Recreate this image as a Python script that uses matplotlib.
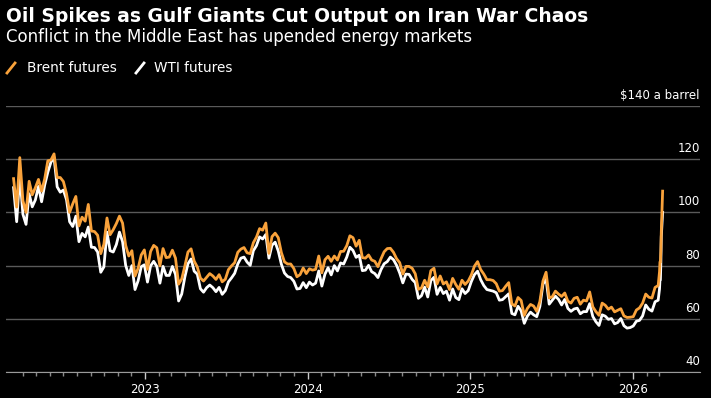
import matplotlib.pyplot as plt
from matplotlib.lines import Line2D
from matplotlib.transforms import blended_transform_factory
import pandas as pd

# weekly (Friday) closes in $ a barrel
brent_2022 = [112.7, 102.0, 120.6,
              104.4, 100.0, 111.7, 106.6, 109.3,
              112.4, 108.0, 112.6, 119.4,
              119.7, 122.0, 113.1, 113.1,
              111.6, 107.0, 100.0, 103.2, 106.0,
              94.9, 98.2, 96.7, 103.0,
              93.0, 92.8, 91.4, 84.5, 88.0,
              97.9, 91.6, 93.5, 95.8,
              98.6, 96.0, 87.6, 83.6,
              85.6, 76.1, 79.0, 84.0, 85.9]
wti_2022 = [109.3, 96.5, 113.9,
            99.3, 95.5, 107.0, 102.1, 104.7,
            109.8, 104.0, 110.3, 115.1,
            118.9, 120.7, 109.6, 107.6,
            108.4, 104.8, 96.5, 94.7, 98.6,
            89.0, 92.1, 90.8, 94.5,
            86.9, 86.8, 85.1, 77.5, 79.5,
            92.6, 85.6, 85.1, 87.9,
            92.6, 89.0, 80.1, 76.3,
            80.0, 71.0, 74.3, 79.6, 80.3]

brent_2023 = [78.6, 85.3, 87.6, 86.7,
              79.9, 86.4, 83.0, 83.2,
              85.8, 82.8, 73.0, 75.0, 79.8,
              85.1, 86.3, 81.7, 79.5,
              75.3, 74.2, 75.6, 77.0,
              76.1, 74.8, 76.6, 73.9, 74.9,
              78.5, 79.9, 81.1, 85.0,
              86.2, 86.8, 84.8, 84.5,
              88.6, 90.7, 93.9, 93.3, 96.0,
              84.6, 90.9, 92.2, 90.5,
              84.9, 81.4, 80.6, 80.6,
              78.9, 75.8, 76.6, 79.1, 77.0]
wti_2023 = [73.8, 79.9, 81.6, 79.7,
            73.4, 79.7, 76.3, 76.3,
            79.7, 76.7, 66.7, 69.3, 75.7,
            80.7, 82.5, 77.9, 76.8,
            71.3, 70.0, 71.7, 72.7,
            71.7, 70.2, 71.8, 69.2, 70.6,
            73.9, 75.4, 77.1, 80.6,
            82.8, 83.2, 81.3, 80.1,
            85.6, 87.5, 90.8, 90.0, 91.7,
            82.8, 87.7, 88.8, 85.5,
            80.5, 77.2, 75.9, 75.5,
            74.1, 71.2, 71.4, 73.6, 71.7]

brent_2024 = [78.8, 78.3, 78.6, 83.6,
              77.3, 82.2, 83.5, 81.6,
              83.6, 82.1, 85.3, 85.4, 87.5,
              91.2, 90.5, 87.3, 89.5,
              83.0, 82.8, 84.0, 82.1, 81.6,
              79.6, 82.6, 85.2, 86.4,
              86.5, 85.0, 82.6, 81.1,
              76.8, 79.7, 79.7, 79.0, 76.9,
              71.1, 71.6, 74.5, 72.0,
              78.1, 79.0, 73.1, 76.1,
              73.1, 73.9, 71.0, 75.2, 72.9,
              71.1, 74.5, 72.9, 74.2]
wti_2024 = [73.8, 72.7, 73.4, 78.0,
            72.3, 76.8, 79.2, 76.5,
            80.0, 78.0, 81.0, 80.6, 83.2,
            86.9, 85.7, 83.1, 83.9,
            78.1, 78.3, 80.1, 77.7, 77.0,
            75.5, 78.5, 80.7, 81.5,
            83.2, 82.2, 80.1, 77.2,
            73.5, 76.8, 76.7, 74.8, 73.6,
            67.7, 68.7, 71.9, 68.2,
            74.4, 75.6, 69.2, 71.8,
            69.5, 70.4, 67.0, 71.2, 68.0,
            67.2, 71.3, 69.5, 70.6]

brent_2025 = [76.5, 79.8, 81.5, 78.5, 76.8,
              74.7, 74.7, 74.4, 73.2,
              70.4, 70.6, 72.2, 73.6,
              65.6, 64.8, 68.0, 66.9,
              61.3, 63.9, 65.4, 64.8, 62.8,
              66.5, 74.2, 77.5, 67.8,
              68.3, 70.4, 69.3, 68.4,
              69.7, 66.6, 65.9, 67.7, 68.1,
              65.5, 67.0, 66.7, 70.1,
              64.5, 62.7, 61.3, 65.9, 65.1,
              63.6, 64.4, 62.6, 63.2,
              63.8, 61.1, 60.5, 60.6]
wti_2025 = [74.0, 76.6, 77.9, 74.7, 72.5,
            71.0, 70.7, 70.4, 69.8,
            67.0, 67.2, 68.3, 69.4,
            62.0, 61.5, 64.7, 63.0,
            58.3, 61.0, 62.5, 61.5, 60.8,
            64.6, 73.0, 75.0, 65.5,
            67.0, 68.5, 67.3, 65.2,
            67.3, 63.9, 62.8, 63.7, 64.0,
            61.9, 62.7, 62.7, 65.7,
            60.9, 58.9, 57.5, 61.5, 61.0,
            59.8, 60.1, 58.1, 58.6,
            60.1, 57.4, 56.5, 56.7]

brent_2026 = [60.8, 63.3, 64.1, 65.9, 69.3, 68.1, 67.8, 71.8, 72.5]
wti_2026 = [57.3, 59.1, 59.4, 61.1, 65.2, 63.6, 62.9, 66.4, 67.0]

# daily closes for the March 2026 spike
march_days = ['2026-03-02', '2026-03-03', '2026-03-04', '2026-03-05', '2026-03-06', '2026-03-09']
brent_march = [77.7, 81.4, 81.4, 85.4, 92.7, 108.0]
wti_march = [71.2, 74.6, 74.7, 81.0, 90.9, 100.0]

year_starts = ['2022-03-11', '2023-01-06', '2024-01-05', '2025-01-03', '2026-01-02']


def build(yearly, march):
    parts = [pd.Series(v, index=pd.date_range(s, periods=len(v), freq='W-FRI'))
             for s, v in zip(year_starts, yearly)]
    parts.append(pd.Series(march, index=pd.to_datetime(march_days)))
    return pd.concat(parts)


brent = build([brent_2022, brent_2023, brent_2024, brent_2025, brent_2026], brent_march)
wti = build([wti_2022, wti_2023, wti_2024, wti_2025, wti_2026], wti_march)

orange = '#f9a23b'
plt.rcParams['font.family'] = 'DejaVu Sans'
W, H = 711, 398
fig = plt.figure(figsize=(W / 100, H / 100), dpi=100, facecolor='black')
ax = fig.add_axes([6 / W, 26 / H, 694 / W, 266 / H], facecolor='black')

ax.plot(wti.index, wti.values, color='white', lw=2.0, solid_joinstyle='round')
ax.plot(brent.index, brent.values, color=orange, lw=2.0, solid_joinstyle='round')

ax.set_ylim(40, 140)
ax.set_xlim(pd.Timestamp('2022-02-22'), pd.Timestamp('2026-06-01'))
ax.set_yticks(range(40, 141, 20))
ax.yaxis.grid(True, color='#5a5a5a', lw=1)
ax.tick_params(axis='y', length=0, labelleft=False)
for s in ['top', 'left', 'right']:
    ax.spines[s].set_visible(False)
ax.spines['bottom'].set_color('#9a9a9a')
ax.spines['bottom'].set_zorder(3)

trans = blended_transform_factory(ax.transAxes, ax.transData)
for v in range(40, 141, 20):
    label = '$140 a barrel' if v == 140 else str(v)
    ax.annotate(label, xy=(1, v), xycoords=trans, xytext=(0, 5), textcoords='offset points',
                ha='right', va='baseline', color='white', fontsize=8.5)

years = pd.to_datetime(['2023-01-01', '2024-01-01', '2025-01-01', '2026-01-01'])
ax.set_xticks(years)
ax.set_xticklabels([str(d.year) for d in years])
months = pd.date_range('2022-04-01', '2026-03-01', freq='MS')
ax.set_xticks(months, minor=True)
ax.tick_params(axis='x', which='major', length=5, width=1, color='#cccccc', labelcolor='white',
               labelsize=8.5, pad=3)
ax.tick_params(axis='x', which='minor', length=3, width=1, color='#8a8a8a')

fig.text(6 / W, 1 - 16 / H, 'Oil Spikes as Gulf Giants Cut Output on Iran War Chaos',
         color='white', fontsize=13.5, fontweight='bold', va='center')
fig.text(6 / W, 1 - 37 / H, 'Conflict in the Middle East has upended energy markets',
         color='white', fontsize=12, va='center')

# legend
fig.add_artist(Line2D([7 / W, 15 / W], [1 - 73 / H, 1 - 63 / H], color=orange, lw=2))
fig.text(27 / W, 1 - 68 / H, 'Brent futures', color='white', fontsize=9.8, va='center')
fig.add_artist(Line2D([136 / W, 144 / W], [1 - 73 / H, 1 - 63 / H], color='white', lw=2))
fig.text(154 / W, 1 - 68 / H, 'WTI futures', color='white', fontsize=9.8, va='center')

fig.savefig('out.png', dpi=100, facecolor='black')
